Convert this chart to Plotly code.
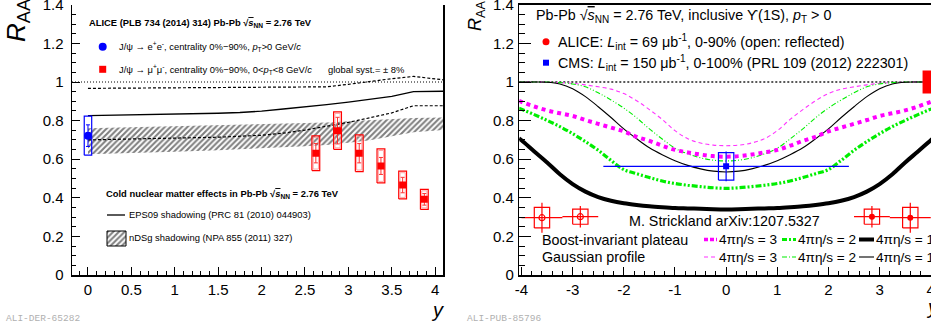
import plotly.graph_objects as go

W, H = 931, 332
FONT = "Liberation Sans"

# ---------------- Left panel: ALICE J/psi R_AA vs y ----------------
jpsi_ee_y = [0.0]
jpsi_ee_raa = [0.722]
jpsi_ee_stat = [0.056]
jpsi_ee_syst = [0.101]

jpsi_mm_y = [2.625, 2.875, 3.125, 3.375, 3.625, 3.875]
jpsi_mm_raa = [0.631, 0.748, 0.631, 0.565, 0.466, 0.392]
jpsi_mm_stat = [0.05, 0.069, 0.05, 0.044, 0.04, 0.03]
jpsi_mm_syst = [0.09, 0.097, 0.095, 0.088, 0.072, 0.052]

eps09_y = [0, 0.5, 1.0, 1.5, 1.75, 2.0, 2.25, 2.5, 2.75, 3.0, 3.25, 3.5, 3.75, 4.1]
eps09_central = [0.826, 0.829, 0.833, 0.838, 0.842, 0.849, 0.860, 0.870, 0.883, 0.896, 0.912, 0.926, 0.950, 0.952]

eps09_band_y = [0, 0.5, 1.0, 1.5, 2.0, 2.25, 2.5, 2.75, 3.0, 3.25, 3.5, 3.75, 4.1]
eps09_upper = [0.967, 0.968, 0.969, 0.970, 0.971, 0.971, 0.972, 0.975, 0.988, 1.003, 1.017, 1.029, 1.011]
eps09_lower = [0.700, 0.704, 0.708, 0.714, 0.724, 0.735, 0.751, 0.770, 0.791, 0.815, 0.840, 0.877, 0.877]

ndsg_y = [0, 0.5, 1.0, 1.5, 2.0, 2.5, 2.75, 3.0, 3.25, 3.5, 3.75, 4.1]
ndsg_hi = [0.760, 0.765, 0.770, 0.775, 0.780, 0.785, 0.790, 0.796, 0.802, 0.808, 0.813, 0.816]
ndsg_lo = [0.625, 0.632, 0.639, 0.647, 0.656, 0.667, 0.673, 0.685, 0.698, 0.718, 0.740, 0.752]

left_xticks = [0, 0.5, 1, 1.5, 2, 2.5, 3, 3.5, 4]
left_xtick_labels = ["0", "0.5", "1", "1.5", "2", "2.5", "3", "3.5", "4"]
yticks = [0, 0.2, 0.4, 0.6, 0.8, 1.0, 1.2, 1.4]
ytick_labels = ["0", "0.2", "0.4", "0.6", "0.8", "1", "1.2", "1.4"]

# ---------------- Right panel: Upsilon(1S) R_AA vs y ----------------
curve_y = [-4.05, -4.0, -3.75, -3.5, -3.25, -3.0, -2.75, -2.5, -2.25, -2.0, -1.75, -1.5,
           -1.25, -1.0, -0.75, -0.5, -0.25, 0.0, 0.25, 0.5, 0.75, 1.0, 1.25, 1.5, 1.75,
           2.0, 2.25, 2.5, 2.75, 3.0, 3.25, 3.5, 3.75, 4.0, 4.05]
boost_eta3 = [0.902, 0.897, 0.873, 0.853, 0.838, 0.824, 0.803, 0.783, 0.764, 0.744, 0.716, 0.695,
              0.670, 0.648, 0.635, 0.624, 0.616, 0.613, 0.616, 0.624, 0.635, 0.648, 0.670, 0.695,
              0.716, 0.744, 0.764, 0.783, 0.803, 0.824, 0.838, 0.853, 0.873, 0.897, 0.902]
boost_eta2 = [0.864, 0.859, 0.831, 0.801, 0.769, 0.732, 0.691, 0.646, 0.594, 0.546, 0.525, 0.505,
              0.487, 0.474, 0.465, 0.458, 0.452, 0.449, 0.452, 0.458, 0.465, 0.474, 0.487, 0.505,
              0.525, 0.546, 0.594, 0.646, 0.691, 0.732, 0.769, 0.801, 0.831, 0.859, 0.864]
boost_eta1 = [0.708, 0.698, 0.640, 0.583, 0.522, 0.471, 0.432, 0.404, 0.385, 0.372, 0.363, 0.356,
              0.351, 0.347, 0.345, 0.343, 0.341, 0.340, 0.341, 0.343, 0.345, 0.347, 0.351, 0.356,
              0.363, 0.372, 0.385, 0.404, 0.432, 0.471, 0.522, 0.583, 0.640, 0.698, 0.708]
gauss_eta3 = [1.0, 1.0, 1.0, 1.0, 0.997, 0.993, 0.985, 0.975, 0.963, 0.940, 0.903, 0.857,
              0.806, 0.748, 0.706, 0.684, 0.673, 0.670, 0.673, 0.684, 0.706, 0.748, 0.806, 0.857,
              0.903, 0.940, 0.963, 0.975, 0.985, 0.993, 0.997, 1.0, 1.0, 1.0, 1.0]
gauss_eta2 = [1.0, 1.0, 1.0, 1.0, 0.997, 0.990, 0.975, 0.944, 0.907, 0.865, 0.815, 0.757,
              0.705, 0.657, 0.628, 0.607, 0.595, 0.591, 0.595, 0.607, 0.628, 0.657, 0.705, 0.757,
              0.815, 0.865, 0.907, 0.944, 0.975, 0.990, 0.997, 1.0, 1.0, 1.0, 1.0]
gauss_eta1 = [1.0, 1.0, 1.0, 0.999, 0.990, 0.965, 0.924, 0.872, 0.816, 0.757, 0.706, 0.659,
              0.623, 0.592, 0.568, 0.550, 0.538, 0.534, 0.538, 0.550, 0.568, 0.592, 0.623, 0.659,
              0.706, 0.757, 0.816, 0.872, 0.924, 0.965, 0.990, 0.999, 1.0, 1.0, 1.0]

cms_y = [0.0]
cms_raa = [0.563]
cms_stat = [0.077]
cms_syst = [0.071]
cms_yerr = [2.4]

alice_y = [2.85, 3.6]
alice_raa = [0.302, 0.297]
alice_stat = [0.056, 0.078]
alice_syst = [0.039, 0.053]
alice_yerr = [0.35, 0.4]
alice_global_syst = 0.06

right_xticks = [-4, -3, -2, -1, 0, 1, 2, 3, 4]
right_xtick_labels = ["-4", "-3", "-2", "-1", "0", "1", "2", "3", "4"]


def boxes(xs, ys, hw, hh):
    bx, by = [], []
    for x, y, h in zip(xs, ys, hh):
        bx += [x - hw, x + hw, x + hw, x - hw, x - hw, None]
        by += [y - h, y - h, y + h, y + h, y - h, None]
    return bx, by


fig = go.Figure()

HATCH = dict(shape="/", fgcolor="black", bgcolor="rgba(0,0,0,0)", size=4, solidity=0.52)

# ---- left panel ----
fig.add_trace(go.Scatter(
    x=ndsg_y + ndsg_y[::-1], y=ndsg_hi + ndsg_lo[::-1], xaxis="x", yaxis="y",
    mode="lines", fill="toself", line=dict(width=0, color="rgba(0,0,0,0)"),
    fillcolor="rgba(0,0,0,0)", fillpattern=HATCH, hoverinfo="skip"))
fig.add_trace(go.Scatter(x=eps09_y, y=eps09_central, xaxis="x", yaxis="y", mode="lines",
                         line=dict(color="black", width=1.3)))
fig.add_trace(go.Scatter(x=eps09_band_y, y=eps09_upper, xaxis="x", yaxis="y", mode="lines",
                         line=dict(color="black", width=1.2, dash="3px,2px")))
fig.add_trace(go.Scatter(x=eps09_band_y, y=eps09_lower, xaxis="x", yaxis="y", mode="lines",
                         line=dict(color="black", width=1.2, dash="3px,2px")))

bx, by = boxes(jpsi_ee_y, jpsi_ee_raa, 0.043, jpsi_ee_syst)
fig.add_trace(go.Scatter(x=bx, y=by, xaxis="x", yaxis="y", mode="lines",
                         line=dict(color="blue", width=1.2)))
bx, by = boxes(jpsi_mm_y, jpsi_mm_raa, 0.045, jpsi_mm_syst)
fig.add_trace(go.Scatter(x=bx, y=by, xaxis="x", yaxis="y", mode="lines",
                         line=dict(color="red", width=1.2)))
bx, by = boxes(jpsi_mm_y, jpsi_mm_raa, 0.03, [s - 0.008 for s in jpsi_mm_syst])
fig.add_trace(go.Scatter(x=bx, y=by, xaxis="x", yaxis="y", mode="lines",
                         line=dict(color="#ff9090", width=0.8)))

fig.add_trace(go.Scatter(x=jpsi_ee_y, y=jpsi_ee_raa, xaxis="x", yaxis="y", mode="markers",
                         marker=dict(symbol="circle", size=8, color="blue"),
                         error_y=dict(type="data", array=jpsi_ee_stat, color="blue", thickness=1, width=2)))
fig.add_trace(go.Scatter(x=jpsi_mm_y, y=jpsi_mm_raa, xaxis="x", yaxis="y", mode="markers",
                         marker=dict(symbol="square", size=7, color="red"),
                         error_y=dict(type="data", array=jpsi_mm_stat, color="#ff3030", thickness=1, width=2)))

# ---- right panel ----
fig.add_trace(go.Scatter(x=curve_y, y=gauss_eta3, xaxis="x2", yaxis="y2", mode="lines",
                         line=dict(color="#ff33ff", width=1.1, dash="4px,3px", shape="spline")))
fig.add_trace(go.Scatter(x=curve_y, y=gauss_eta2, xaxis="x2", yaxis="y2", mode="lines",
                         line=dict(color="#00ee00", width=1.1, dash="5px,2px,1px,2px,1px,2px", shape="spline")))
fig.add_trace(go.Scatter(x=curve_y, y=gauss_eta1, xaxis="x2", yaxis="y2", mode="lines",
                         line=dict(color="black", width=1.1, shape="spline")))
fig.add_trace(go.Scatter(x=curve_y, y=boost_eta3, xaxis="x2", yaxis="y2", mode="lines",
                         line=dict(color="#ff00ff", width=4, dash="4px,4px", shape="spline")))
fig.add_trace(go.Scatter(x=curve_y, y=boost_eta2, xaxis="x2", yaxis="y2", mode="lines",
                         line=dict(color="#00ee00", width=3.2, dash="6px,2px,2px,2px,2px,2px", shape="spline")))
fig.add_trace(go.Scatter(x=curve_y, y=boost_eta1, xaxis="x2", yaxis="y2", mode="lines",
                         line=dict(color="black", width=4, shape="spline")))

# global syst box at R_AA = 1
fig.add_trace(go.Scatter(x=[3.84, 4.2, 4.2, 3.84, 3.84],
                         y=[1 - alice_global_syst, 1 - alice_global_syst, 1 + alice_global_syst,
                            1 + alice_global_syst, 1 - alice_global_syst],
                         xaxis="x2", yaxis="y2", mode="lines", fill="toself",
                         fillcolor="red", line=dict(color="red", width=0)))

# CMS
bx, by = boxes(cms_y, cms_raa, 0.15, cms_syst)
fig.add_trace(go.Scatter(x=bx, y=by, xaxis="x2", yaxis="y2", mode="lines",
                         line=dict(color="blue", width=1.2)))
fig.add_trace(go.Scatter(x=cms_y, y=cms_raa, xaxis="x2", yaxis="y2", mode="markers",
                         marker=dict(symbol="square", size=6, color="blue"),
                         error_y=dict(type="data", array=cms_stat, color="blue", thickness=1.2, width=0),
                         error_x=dict(type="data", array=cms_yerr, color="blue", thickness=1.2, width=0)))

# ALICE (filled) and reflected (open)
alice_refl = [-v for v in alice_y]
bx, by = boxes(alice_y, alice_raa, 0.15, alice_syst)
fig.add_trace(go.Scatter(x=bx, y=by, xaxis="x2", yaxis="y2", mode="lines",
                         line=dict(color="red", width=1.2)))
bx, by = boxes(alice_refl, alice_raa, 0.15, alice_syst)
fig.add_trace(go.Scatter(x=bx, y=by, xaxis="x2", yaxis="y2", mode="lines",
                         line=dict(color="red", width=1.2)))
fig.add_trace(go.Scatter(x=alice_y, y=alice_raa, xaxis="x2", yaxis="y2", mode="markers",
                         marker=dict(symbol="circle", size=6, color="red"),
                         error_y=dict(type="data", array=alice_stat, color="red", thickness=1.2, width=0),
                         error_x=dict(type="data", array=alice_yerr, color="red", thickness=1.2, width=0)))
fig.add_trace(go.Scatter(x=alice_refl, y=alice_raa, xaxis="x2", yaxis="y2", mode="markers",
                         marker=dict(symbol="circle-open", size=6, color="red", line=dict(width=1.2)),
                         error_y=dict(type="data", array=alice_stat, color="red", thickness=1.2, width=0),
                         error_x=dict(type="data", array=alice_yerr, color="red", thickness=1.2, width=0)))

# ---- legend samples (pixel overlay axes x3/y3) ----
def ov(xs, ys, **kw):
    fig.add_trace(go.Scatter(x=xs, y=ys, xaxis="x3", yaxis="y3", hoverinfo="skip", **kw))

ov([102.7], [46.7], mode="markers", marker=dict(symbol="circle", size=8, color="blue"))
ov([102.7], [69.3], mode="markers", marker=dict(symbol="square", size=7, color="red"))
ov([107, 125], [215, 215], mode="lines", line=dict(color="black", width=1.3))
ov([107, 126, 126, 107, 107], [231, 231, 246, 246, 231], mode="lines", fill="toself",
   fillcolor="rgba(0,0,0,0)", line=dict(color="black", width=1), fillpattern=HATCH)

ov([546], [41.7], mode="markers", marker=dict(symbol="circle", size=7, color="red"))
ov([546], [62.7], mode="markers", marker=dict(symbol="square", size=6, color="blue"))
ov([704, 717], [239.5, 239.5], mode="lines", line=dict(color="#ff00ff", width=3.5, dash="4px,2px"))
ov([782, 796], [239.5, 239.5], mode="lines", line=dict(color="#00ee00", width=3, dash="5px,2px,2px,2px"))
ov([859, 874], [239.5, 239.5], mode="lines", line=dict(color="black", width=4))
ov([704, 717], [257, 257], mode="lines", line=dict(color="#ff33ff", width=1.1, dash="4px,3px"))
ov([782, 796], [257, 257], mode="lines", line=dict(color="#00ee00", width=1.1, dash="5px,2px,1px,2px"))
ov([859, 874], [257, 257], mode="lines", line=dict(color="black", width=1.1))

# ---- texts ----
def txt(px, py, text, size, color="black", xanchor="left", family=FONT, angle=0):
    fig.add_annotation(x=px / W, y=1 - py / H, xref="paper", yref="paper", text=text,
                       showarrow=False, xanchor=xanchor, yanchor="middle", textangle=angle,
                       font=dict(size=size, color=color, family=family), borderpad=0)

SQ = '√<span style="text-decoration:overline"><i>s</i></span><sub>NN</sub>'
LS = 9.4
txt(88, 22.7, "<b>ALICE (PLB 734 (2014) 314) Pb-Pb " + SQ + " = 2.76 TeV</b>", LS)
txt(118, 46.7, "J/ψ → e<sup>+</sup>e<sup>-</sup>, centrality 0%−90%, <i>p</i><sub>T</sub>&gt;0 GeV/<i>c</i>", LS)
txt(118, 69.3, "J/ψ → μ<sup>+</sup>μ<sup>-</sup>, centrality 0%−90%, 0&lt;<i>p</i><sub>T</sub>&lt;8 GeV/<i>c</i>", LS)
txt(327, 69.3, "global syst.= ± 8%", LS)
txt(105, 194, "<b>Cold nuclear matter effects in Pb-Pb " + SQ + " = 2.76 TeV</b>", LS)
txt(128, 215, "EPS09 shadowing (PRC 81 (2010) 044903)", LS)
txt(128, 237.7, "nDSg shadowing (NPA 855 (2011) 327)", LS)

RS = 14.3
txt(535, 16, "Pb-Pb " + SQ + " = 2.76 TeV, inclusive ϒ(1S), <i>p</i><sub>T</sub> &gt; 0", RS)
txt(557, 41.7, "ALICE: <i>L</i><sub>int</sub> = 69 μb<sup>-1</sup>, 0-90% (open: reflected)", RS)
txt(557, 62.7, "CMS: <i>L</i><sub>int</sub> = 150 μb<sup>-1</sup>, 0-100% (PRL 109 (2012) 222301)", RS)
txt(628, 220.7, "M. Strickland arXiv:1207.5327", RS)
txt(541, 239.5, "Boost-invariant plateau", RS)
txt(541, 257, "Gaussian profile", RS)
for xp, lab in [(717.5, "4πη/s = 3"), (797, "4πη/s = 2"), (874.5, "4πη/s = 1")]:
    txt(xp, 239.5, lab, 13.6)
    txt(xp, 257, lab, 13.6)

txt(18, 20, "<i>R</i><sub>AA</sub>", 26, xanchor="center", angle=-90)
txt(476, 16, "<i>R</i><sub>AA</sub>", 18, xanchor="center", angle=-90)
txt(437, 310, "<i>y</i>", 20, xanchor="center")
txt(925, 307, "<i>y</i>", 20, xanchor="left")
txt(5, 318, "ALI-DER-65282", 9.5, color="#b0b0b0", family="Liberation Mono")
txt(466, 318, "ALI-PUB-85796", 9.5, color="#b0b0b0", family="Liberation Mono")

# ---- layout ----
y_dom = [1 - 275 / H, 1 - 4.8 / H]
common_ax = dict(showline=True, linecolor="black", linewidth=1.5, showgrid=False, zeroline=False,
                 ticks="inside", tickcolor="black", tickwidth=1, automargin=False,
                 ticklabeloverflow="allow",
                 tickfont=dict(family=FONT, size=15, color="black"))

fig.update_layout(
    width=W, height=H, margin=dict(l=0, r=0, t=0, b=0, autoexpand=False),
    paper_bgcolor="white", plot_bgcolor="rgba(0,0,0,0)", showlegend=False,
    hovermode=False,
    xaxis=dict(domain=[72 / W, 443 / W], range=[-0.184, 4.09], anchor="y",
               tickvals=left_xticks, ticktext=left_xtick_labels, ticklen=8,
               minor=dict(dtick=0.1, tick0=0, ticks="inside", ticklen=4, tickcolor="black"),
               **common_ax),
    yaxis=dict(domain=y_dom, range=[0, 1.4], anchor="x", mirror=True,
               tickvals=yticks, ticktext=ytick_labels, ticklen=8, ticklabelstandoff=4,
               minor=dict(dtick=0.05, tick0=0, ticks="inside", ticklen=4, tickcolor="black"),
               **common_ax),
    xaxis2=dict(domain=[519.3 / W, 1.0], range=[-4.043, 4.005], anchor="y2", mirror=True,
                tickvals=right_xticks, ticktext=right_xtick_labels, ticklen=8,
                minor=dict(dtick=0.2, tick0=0, ticks="inside", ticklen=4, tickcolor="black"),
                **common_ax),
    yaxis2=dict(domain=y_dom, range=[0, 1.4], anchor="x2",
                tickvals=yticks, ticktext=ytick_labels, ticklen=12, ticklabelstandoff=1,
                minor=dict(dtick=0.05, tick0=0, ticks="inside", ticklen=6, tickcolor="black"),
                **common_ax),
    xaxis3=dict(domain=[0, 1], range=[0, W], visible=False, fixedrange=True),
    yaxis3=dict(domain=[0, 1], range=[H, 0], visible=False, fixedrange=True, anchor="x3"),
)

# reference lines at R_AA = 1
fig.add_shape(type="line", xref="x domain", yref="y", x0=0, x1=1, y0=1, y1=1, layer="below",
              line=dict(color="black", width=1, dash="1px,2px"))
fig.add_shape(type="line", xref="x2 domain", yref="y2", x0=0, x1=1, y0=1, y1=1, layer="below",
              line=dict(color="#222", width=1.5, dash="2px,2px"))

fig.write_html("out.html", config={"displayModeBar": False, "staticPlot": True},
               post_script="document.body.style.margin='0';document.body.style.overflow='hidden';")
